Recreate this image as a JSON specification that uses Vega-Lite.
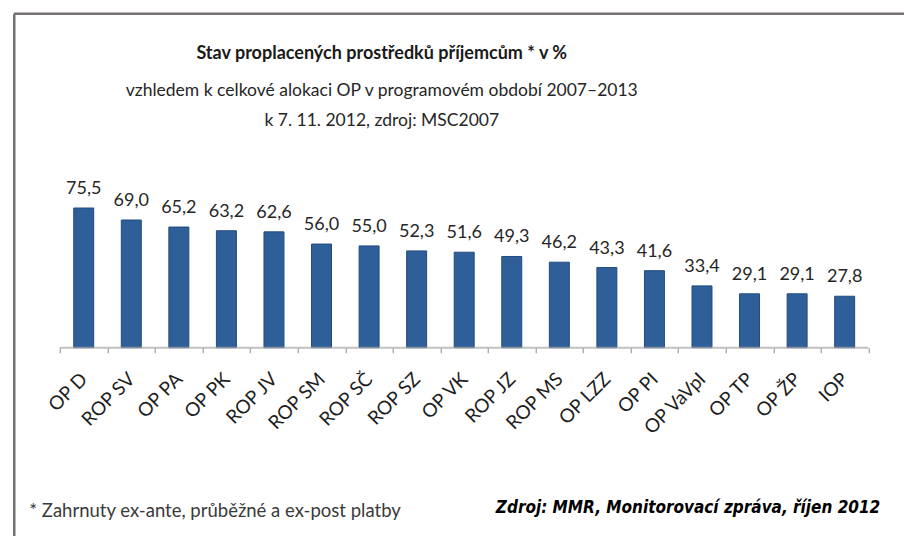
{
  "$schema": "https://vega.github.io/schema/vega-lite/v6.json",
  "width": 896,
  "height": 523,
  "padding": {"left": 6.75, "top": 11.75, "right": 0, "bottom": 0},
  "background": "white",
  "config": {
    "locale": {"number": {"decimal": ",", "thousands": " ", "grouping": [3], "currency": ["", " Kč"]}},
    "view": {"stroke": null},
    "font": "Lato"
  },
  "title": {
    "text": "Stav proplacených prostředků příjemcům * v %",
    "subtitle": ["vzhledem k celkové alokaci OP v programovém období 2007–2013", "k 7. 11. 2012, zdroj: MSC2007"],
    "anchor": "middle",
    "dx": -80,
    "offset": -117,
    "font": "Lato",
    "fontSize": 18,
    "fontWeight": "bold",
    "color": "#1a1a1a",
    "subtitleFont": "Lato",
    "subtitleFontSize": 17.5,
    "subtitleColor": "#262626",
    "subtitleLineHeight": 30,
    "subtitlePadding": 19
  },
  "data": {
    "values": [
      {"program": "OP D", "value": 75.5},
      {"program": "ROP SV", "value": 69.0},
      {"program": "OP PA", "value": 65.2},
      {"program": "OP PK", "value": 63.2},
      {"program": "ROP JV", "value": 62.6},
      {"program": "ROP SM", "value": 56.0},
      {"program": "ROP SČ", "value": 55.0},
      {"program": "ROP SZ", "value": 52.3},
      {"program": "OP VK", "value": 51.6},
      {"program": "ROP JZ", "value": 49.3},
      {"program": "ROP MS", "value": 46.2},
      {"program": "OP LZZ", "value": 43.3},
      {"program": "OP PI", "value": 41.6},
      {"program": "OP VaVpI", "value": 33.4},
      {"program": "OP TP", "value": 29.1},
      {"program": "OP ŽP", "value": 29.1},
      {"program": "IOP", "value": 27.8}
    ]
  },
  "layer": [
    {
      "mark": {"type": "bar", "width": {"band": 0.42}, "color": "#2f5f99", "stroke": "#214a7c", "strokeWidth": 1},
      "encoding": {
        "x": {
          "field": "program", "type": "nominal", "sort": null,
          "scale": {"paddingInner": 0, "paddingOuter": 0.92, "align": 0.528},
          "axis": {
            "domain": false,
            "ticks": true, "tickBand": "extent", "tickColor": "#a0a0a0", "tickSize": 5, "tickWidth": 1.2,
            "labelAngle": -45, "labelAlign": "right", "labelBaseline": "middle", "labelPadding": 23,
            "labelFont": "Lato", "labelFontSize": 19, "labelColor": "#1e1e1e", "labelOverlap": false,
            "offset": -189,
            "title": "Zdroj: MMR, Monitorovací zpráva, říjen 2012",
            "titleX": 866, "titleY": 160, "titleAlign": "right", "titleBaseline": "middle",
            "titleFont": "DejaVu Sans Condensed, Liberation Sans Narrow, Roboto, sans-serif", "titleFontSize": 17, "titleFontStyle": "italic", "titleFontWeight": "bold", "titleColor": "#000000"
          }
        },
        "y": {
          "field": "value", "type": "quantitative",
          "scale": {"domain": [-102.2, 180.5], "nice": false, "zero": false},
          "axis": {
            "domain": true, "domainColor": "#757170", "domainWidth": 2.5,
            "labels": false, "ticks": false, "grid": false,
            "title": "* Zahrnuty ex-ante, průběžné a ex-post platby",
            "titleAngle": 0, "titleX": 15, "titleY": 497, "titleAlign": "left", "titleBaseline": "middle",
            "titleFont": "Lato", "titleFontSize": 18.5, "titleFontWeight": "normal", "titleColor": "#3a3a3a"
          }
        }
      }
    },
    {
      "mark": {"type": "tick", "orient": "horizontal", "size": 47.6, "thickness": 2, "color": "#a6a6a6"},
      "encoding": {
        "x": {"field": "program", "type": "nominal", "sort": null},
        "y": {"datum": 0, "type": "quantitative"}
      }
    },
    {
      "mark": {"type": "text", "baseline": "alphabetic", "dy": -14, "font": "Lato", "fontSize": 18, "color": "#262626"},
      "encoding": {
        "x": {"field": "program", "type": "nominal", "sort": null},
        "y": {"field": "value", "type": "quantitative"},
        "text": {"field": "value", "type": "quantitative", "format": ".1f"}
      }
    },
    {
      "data": {"values": [{}]},
      "mark": {"type": "rule", "color": "#757170", "strokeWidth": 2.5},
      "encoding": {
        "y": {"datum": 180.5, "type": "quantitative"}
      }
    }
  ]
}
